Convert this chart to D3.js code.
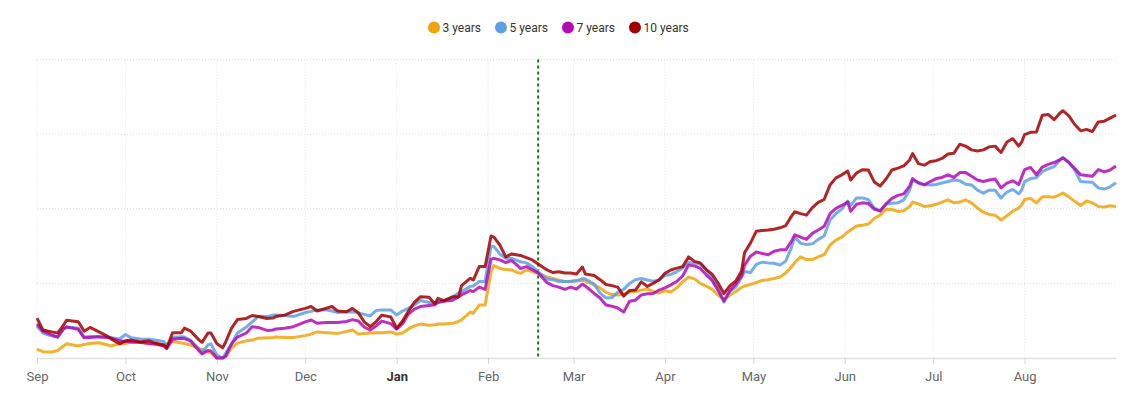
<!DOCTYPE html>
<html>
<head>
<meta charset="utf-8">
<script src="https://cdn.jsdelivr.net/npm/d3@7"></script>
<style>
    body { margin: 0; background: #fff; }
    svg { display: block; font-family: Roboto, "Open Sans", sans-serif; }
</style>
</head>
<body>
<div id="myDiv"><svg width="1135" height="399"></svg></div>
<script>
// days counted from 1 Sep 2023
const days = [0,2,5,7,9,10,14,16,18,21, 24,25,28,30,32,35,38,40,43,44,
    46,49,50,52,55,56,58,59,61,63, 64,66,68,71,73,75,78,80,81,84,
    87,91,93,95,98,100,102,105,107,109, 111,113,115,117,120,122,124,126,128,130,
    133,135,136,138,141,143,144,147,148,150, 152,154,155,157,159,161,163,164,166,168,
    170,173,175,177,179,181,183,185,186,189, 191,193,195,197,199,201,203,205,207,209,
    211,213,215,217,219,221,223,225,227,229, 231,233,235,237,239,240,242,244,246,248,
    250,252,254,256,257,259,261,263,265,267, 269,271,273,275,276,278,280,282,284,286,
    288,290,292,294,296,297,299,301,303,305, 307,309,311,313,315,317,319,321,323,325,
    327,329,331,333,334,335,337,339,341,343, 345,347,348,350,352,354,356,358,360,362,
    364,366];

const years3 = [0.23,0.17,0.16,0.20,0.32,0.38,0.32,0.36,0.39,0.41, 0.35,0.32,0.38,0.39,0.43,0.42,0.38,0.36,0.35,0.38,
    0.44,0.40,0.39,0.35,0.25,0.23,0.16,0.13,0.00,0.00, 0.03,0.27,0.40,0.46,0.48,0.53,0.54,0.55,0.56,0.55,
    0.55,0.60,0.64,0.70,0.68,0.67,0.66,0.71,0.75,0.64, 0.66,0.67,0.68,0.68,0.70,0.64,0.67,0.78,0.86,0.91,
    0.88,0.89,0.91,0.91,0.93,0.98,1.02,1.23,1.20,1.42, 1.42,2.31,2.48,2.40,2.37,2.36,2.29,2.27,2.36,2.32,
    2.27,2.17,2.13,2.09,2.05,2.06,2.07,2.08,2.06,1.96, 1.88,1.76,1.70,1.69,1.72,1.77,1.78,1.82,1.85,1.78,
    1.74,1.80,1.77,1.88,2.04,2.17,2.12,2.00,1.93,1.84, 1.69,1.55,1.68,1.78,1.89,1.93,1.97,2.02,2.08,2.10,
    2.13,2.17,2.28,2.45,2.56,2.71,2.64,2.64,2.71,2.77, 3.03,3.16,3.24,3.38,3.43,3.54,3.56,3.59,3.74,3.83,
    3.99,3.98,3.93,3.95,4.06,4.18,4.13,4.06,4.08,4.12, 4.18,4.24,4.16,4.18,4.24,4.16,4.02,3.91,3.85,3.83,
    3.70,3.81,3.94,4.02,4.10,4.25,4.28,4.16,4.32,4.32, 4.31,4.38,4.42,4.32,4.20,4.09,4.21,4.16,4.06,4.05,
    4.08,4.06];

const years5 = [0.86,0.67,0.59,0.56,0.78,0.83,0.80,0.56,0.58,0.57, 0.55,0.54,0.51,0.63,0.54,0.51,0.50,0.48,0.44,0.32,
    0.55,0.57,0.56,0.48,0.24,0.15,0.35,0.38,0.08,0.00, 0.13,0.38,0.67,0.83,0.97,1.11,1.11,1.15,1.15,1.14,
    1.11,1.22,1.25,1.29,1.29,1.26,1.22,1.23,1.24,1.21, 1.17,1.13,1.27,1.29,1.29,1.15,1.26,1.33,1.42,1.54,
    1.49,1.49,1.50,1.53,1.64,1.74,1.78,1.92,1.93,2.05, 2.05,3.00,2.99,2.79,2.67,2.67,2.61,2.58,2.55,2.45,
    2.31,2.12,2.10,2.05,2.05,2.05,2.07,2.13,2.12,1.98, 1.74,1.61,1.62,1.76,1.84,2.00,2.10,2.13,2.09,2.06,
    2.09,2.21,2.24,2.31,2.41,2.56,2.55,2.51,2.36,2.14, 1.88,1.50,1.78,1.90,2.17,2.32,2.29,2.51,2.57,2.55,
    2.54,2.49,2.60,2.98,3.24,3.08,3.04,3.06,3.18,3.27, 3.70,3.87,3.99,4.21,4.09,4.29,4.29,4.25,4.02,3.95,
    4.13,4.15,4.16,4.24,4.50,4.76,4.71,4.65,4.64,4.65, 4.69,4.73,4.77,4.75,4.66,4.64,4.50,4.42,4.50,4.50,
    4.29,4.45,4.52,4.40,4.50,4.73,4.81,4.83,5.00,5.07, 5.13,5.31,5.38,5.24,5.04,4.73,4.72,4.71,4.56,4.53,
    4.59,4.70];

const years7 = [0.91,0.72,0.62,0.56,0.78,0.83,0.77,0.54,0.55,0.57, 0.55,0.54,0.46,0.44,0.43,0.42,0.39,0.38,0.32,0.26,
    0.50,0.53,0.52,0.46,0.19,0.11,0.20,0.19,0.00,0.00, 0.05,0.38,0.56,0.67,0.84,0.82,0.74,0.75,0.78,0.80,
    0.84,0.97,1.02,0.93,0.95,0.95,0.95,0.98,1.03,0.99, 0.83,0.75,0.86,0.99,0.92,0.77,0.92,1.18,1.31,1.38,
    1.41,1.43,1.49,1.52,1.55,1.64,1.69,1.81,1.78,1.90, 1.84,2.65,2.67,2.63,2.56,2.61,2.48,2.40,2.45,2.37,
    2.28,2.02,1.94,1.90,1.84,1.90,1.85,1.98,1.93,1.73, 1.61,1.42,1.39,1.34,1.23,1.52,1.55,1.69,1.72,1.73,
    1.82,1.88,1.96,2.05,2.20,2.49,2.47,2.40,2.23,2.08, 1.82,1.53,1.80,1.98,2.20,2.49,2.73,2.84,2.80,2.77,
    2.86,2.90,2.90,3.14,3.30,3.24,3.18,3.34,3.43,3.53, 3.87,4.01,4.09,4.18,3.93,4.12,4.16,4.14,3.99,3.94,
    4.13,4.28,4.36,4.40,4.61,4.81,4.69,4.64,4.73,4.81, 4.84,4.91,4.84,4.97,4.97,4.87,4.77,4.73,4.77,4.80,
    4.56,4.69,4.75,4.65,4.85,5.05,5.11,4.91,5.12,5.19, 5.24,5.32,5.36,5.25,5.08,4.91,4.89,4.87,5.05,4.99,
    5.04,5.15];

const years10 = [1.07,0.75,0.70,0.67,0.88,1.01,0.97,0.72,0.82,0.70, 0.58,0.52,0.38,0.46,0.48,0.43,0.46,0.40,0.35,0.26,
    0.68,0.68,0.80,0.73,0.48,0.42,0.67,0.67,0.39,0.27, 0.43,0.80,1.03,1.06,1.14,1.11,1.06,1.07,1.11,1.15,
    1.25,1.33,1.38,1.26,1.33,1.38,1.26,1.24,1.33,1.21, 0.97,0.84,0.97,1.15,1.10,0.80,0.99,1.26,1.49,1.64,
    1.63,1.45,1.60,1.54,1.64,1.64,1.94,2.14,2.09,2.45, 2.45,3.27,3.24,3.03,2.71,2.79,2.76,2.75,2.69,2.63,
    2.52,2.36,2.29,2.31,2.28,2.28,2.25,2.44,2.25,2.21, 2.10,1.97,1.94,1.90,1.66,1.81,1.82,2.04,1.92,2.00,
    2.09,2.27,2.36,2.41,2.45,2.71,2.59,2.55,2.37,2.25, 2.01,1.73,1.93,2.06,2.33,2.82,3.08,3.40,3.42,3.43,
    3.45,3.49,3.55,3.81,3.92,3.87,3.83,4.03,4.17,4.25, 4.64,4.83,4.91,5.01,4.77,4.96,5.05,5.04,4.72,4.61,
    4.80,5.04,5.09,5.15,5.31,5.48,5.21,5.17,5.27,5.29, 5.35,5.47,5.49,5.73,5.68,5.58,5.55,5.58,5.66,5.68,
    5.51,5.79,5.88,5.68,5.79,5.99,6.05,6.06,6.51,6.53, 6.39,6.57,6.63,6.49,6.26,6.09,6.13,6.07,6.33,6.35,
    6.43,6.51];

const seriesNames = ["3 years", "5 years", "7 years", "10 years"];
const seriesColors = ["#f0a30a", "#5b9fe6", "#b40ab4", "#a20000"];
const yTicks = [0, 2, 4, 6, 8];
const startDate = new Date(2023, 8, 1);
const endDate = new Date(2024, 8, 1);
const markerDate = new Date(2024, 1, 18);

function drawChart() {
    let series = [years3, years5, years7, years10];
    let svg = d3.select("#myDiv").select("svg");

    let left = 37, right = 1116, top = 59.6, bottom = 358;

    let x = d3.scaleTime()
        .domain([startDate, endDate])
        .range([left, right]);
    let y = d3.scaleLinear()
        .domain([0, 8])
        .range([bottom, top]);

    let months = d3.timeMonth.range(startDate, endDate);

    // grid
    svg.append("g")
        .selectAll("line")
        .data(months)
        .enter()
        .append("line")
        .attr("x1", d => x(d)).attr("x2", d => x(d))
        .attr("y1", top).attr("y2", bottom)
        .attr("stroke", "#e3e3e3")
        .attr("stroke-dasharray", "1,2");

    svg.append("g")
        .selectAll("line")
        .data(yTicks.slice(1))
        .enter()
        .append("line")
        .attr("x1", left).attr("x2", right)
        .attr("y1", d => y(d)).attr("y2", d => y(d))
        .attr("stroke", "#dcdcdc")
        .attr("stroke-dasharray", "1,2");

    // x axis
    let axis = svg.append("g")
        .attr("transform", "translate(0," + bottom + ")")
        .call(d3.axisBottom(x)
            .tickValues(months)
            .tickFormat(d3.timeFormat("%b"))
            .tickSize(6)
            .tickSizeOuter(0)
            .tickPadding(8));
    axis.select(".domain").attr("stroke", "#e2e2e2").attr("stroke-width", 1.5);
    axis.selectAll(".tick line").attr("stroke", "#d4d4d4");
    axis.selectAll(".tick text")
        .style("font-size", "13px")
        .style("font-family", "Roboto, sans-serif")
        .style("font-weight", d => d.getMonth() === 0 ? "bold" : "normal")
        .attr("fill", d => d.getMonth() === 0 ? "#333" : "#666");

    // marker line
    svg.append("line")
        .attr("x1", x(markerDate)).attr("x2", x(markerDate))
        .attr("y1", top).attr("y2", bottom)
        .attr("stroke", "#117a11")
        .attr("stroke-width", 2)
        .attr("stroke-dasharray", "3,3");

    // lines
    let line = d3.line()
        .x(d => x(d3.timeDay.offset(startDate, d[0])))
        .y(d => y(d[1]));

    series.forEach(function(values, i) {
        let pts = days.map((d, j) => [d, values[j]]);
        svg.append("path")
            .datum(pts)
            .attr("fill", "none")
            .attr("stroke", seriesColors[i])
            .attr("stroke-opacity", 0.85)
            .attr("stroke-width", 3)
            .attr("stroke-linejoin", "round")
            .attr("d", line);
    });

    // legend
    let legend = svg.append("g").attr("transform", "translate(0,27.5)");
    let cx = 434;
    seriesNames.forEach(function(name, i) {
        legend.append("circle")
            .attr("cx", cx).attr("cy", 0).attr("r", 6)
            .attr("fill", seriesColors[i]);
        let t = legend.append("text")
            .attr("x", cx + 8.5)
            .attr("y", 0)
            .attr("dy", "0.35em")
            .attr("fill", "#333")
            .style("font-size", "12px")
            .text(name);
        cx = cx + 8.5 + t.node().getComputedTextLength() + 20;
    });
}

drawChart();
</script>
</body>
</html>
